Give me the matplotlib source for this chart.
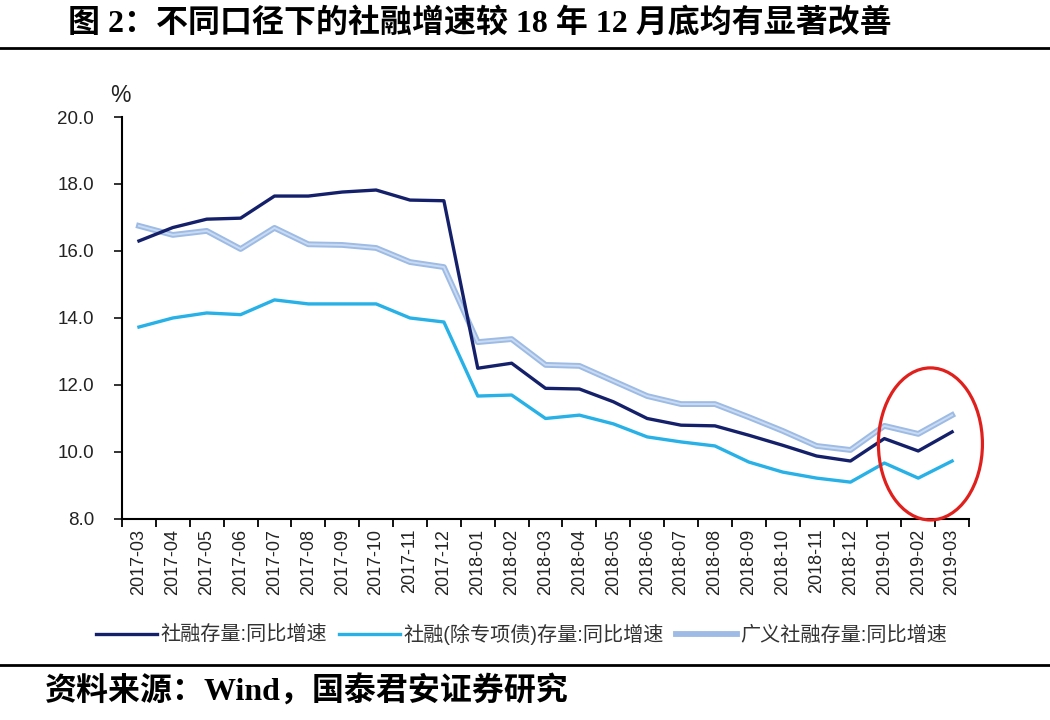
import numpy as np
import matplotlib
matplotlib.use("Agg")
import matplotlib.pyplot as plt
import matplotlib.ticker as ticker
from matplotlib.patches import Ellipse

plt.rcParams['font.family'] = ['Liberation Sans', 'Noto Sans CJK SC', 'DejaVu Sans']

# 月份标签
months = ['2017-03', '2017-04', '2017-05', '2017-06', '2017-07', '2017-08', '2017-09',
          '2017-10', '2017-11', '2017-12', '2018-01', '2018-02', '2018-03', '2018-04',
          '2018-05', '2018-06', '2018-07', '2018-08', '2018-09', '2018-10', '2018-11',
          '2018-12', '2019-01', '2019-02', '2019-03']

# 社融存量:同比增速
tsf = [16.30, 16.70, 16.95, 16.98, 17.64, 17.64, 17.76, 17.82, 17.52, 17.50, 12.50, 12.65,
       11.90, 11.88, 11.50, 11.00, 10.80, 10.78, 10.50, 10.20, 9.88, 9.73, 10.40, 10.03, 10.60]
# 社融(除专项债)存量:同比增速
tsf_ex = [13.73, 14.00, 14.15, 14.10, 14.54, 14.42, 14.42, 14.42, 14.00, 13.88, 11.67, 11.70,
          11.00, 11.10, 10.84, 10.45, 10.30, 10.18, 9.70, 9.40, 9.22, 9.10, 9.67, 9.22, 9.73]
# 广义社融存量:同比增速
tsf_broad = [16.75, 16.48, 16.60, 16.06, 16.69, 16.20, 16.18, 16.09, 15.67, 15.52, 13.28, 13.37,
             12.60, 12.57, 12.12, 11.67, 11.43, 11.43, 11.04, 10.63, 10.18, 10.06, 10.78, 10.54, 11.10]

labels = ['社融存量:同比增速', '社融(除专项债)存量:同比增速', '广义社融存量:同比增速']

x = np.arange(len(months))

fig = plt.figure(figsize=(10.5, 7.2), dpi=100)
ax = fig.add_axes([0.1162, 0.2792, 0.8067, 0.5583])

l1, = ax.plot(x, tsf, color='#14206a', lw=2.4, solid_joinstyle='round', zorder=4)
l2, = ax.plot(x, tsf_ex, color='#27b1e6', lw=2.4, solid_joinstyle='round', zorder=3)
l3, = ax.plot(x, tsf_broad, color='#9dbbe4', lw=4.2, solid_joinstyle='round', zorder=2)
ax.plot(x, tsf_broad, color='#c9dbf2', lw=1.4, solid_joinstyle='round', zorder=2)

# 红色椭圆标注
ax.add_patch(Ellipse((23.36, 10.24), 3.07, 4.54, fill=False, edgecolor='#e0201c',
                     lw=2.3, clip_on=False, zorder=5))

ax.set_xlim(-0.5, len(months) - 0.5)
ax.set_ylim(8, 20)
ax.yaxis.set_major_locator(ticker.MultipleLocator(2))
ax.yaxis.set_major_formatter(ticker.FormatStrFormatter('%.1f'))
ax.set_xticks(x)
ax.set_xticklabels(months, rotation=90, fontsize=13, color='#222222')
ax.xaxis.set_minor_locator(ticker.FixedLocator(np.arange(-0.5, len(months), 1)))
ax.tick_params(axis='x', which='major', length=0, pad=7)
ax.tick_params(axis='x', which='minor', length=6, width=1.3, direction='out')
ax.tick_params(axis='y', length=6, width=1.3, direction='out', labelsize=13.5, colors='#222222',
               pad=14)
for s in ['top', 'right']:
    ax.spines[s].set_visible(False)
for s in ['left', 'bottom']:
    ax.spines[s].set_linewidth(1.5)
    ax.spines[s].set_color('black')

ax.text(-0.55, 20.3, '%', fontsize=16.5, ha='center', va='bottom', color='#222222')

fig.legend([l1, l2, l3], labels, loc='center', bbox_to_anchor=(0.497, 0.119), ncol=3,
           frameon=False, fontsize=14.5, handlelength=3.0, handletextpad=0.2, columnspacing=0.6,
           labelcolor='#333333')

# 标题与来源
fig.text(0.065, 0.968, '图 2：不同口径下的社融增速较 18 年 12 月底均有显著改善', fontsize=23,
         fontweight='bold', ha='left', va='center',
         family=['Liberation Serif', 'Noto Sans CJK SC'])
fig.add_artist(plt.Line2D([0, 1], [0.933, 0.933], color='black', lw=2))
fig.add_artist(plt.Line2D([0, 1], [0.076, 0.076], color='black', lw=2))
fig.text(0.043, 0.039, '资料来源：Wind，国泰君安证券研究', fontsize=23, fontweight='bold',
         ha='left', va='center', family=['Liberation Serif', 'Noto Sans CJK SC'])

fig.savefig('out.png', dpi=100)
